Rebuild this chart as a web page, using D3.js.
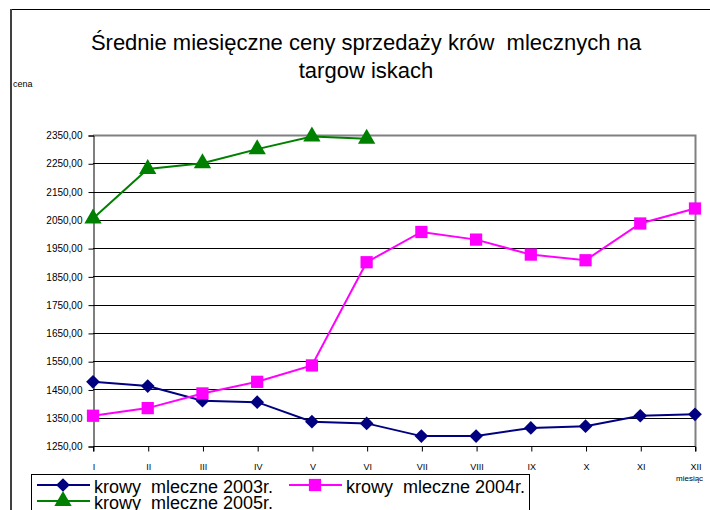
<html>
  <head>
    <meta charset="utf-8">
    <style>
      body {
        margin: 0;
        background: #fff;
      }
      text {
        font-family: "Liberation Sans", Arial, sans-serif;
        white-space: pre;
      }
    </style>
  </head>
  <body>
    <script src="https://d3js.org/d3.v7.min.js"></script>
    <script>
      var width = 710, height = 510;

      var months = ["I", "II", "III", "IV", "V", "VI", "VII", "VIII", "IX", "X", "XI", "XII"];
      var yTicks = [1250, 1350, 1450, 1550, 1650, 1750, 1850, 1950, 2050, 2150, 2250, 2350];
      var cows2003 = [1477, 1462, 1410, 1405, 1336, 1330, 1285, 1285, 1314, 1320, 1357, 1362];
      var cows2004 = [1357, 1384, 1436, 1477, 1535, 1900, 2007, 1980, 1927, 1907, 2037, 2090];
      var cows2005 = [2055, 2230, 2250, 2300, 2345, 2337];

      var titleLines = ["Średnie miesięczne ceny sprzedaży krów  mlecznych na", "targow iskach"];

      var series = [
        { name: "krowy  mleczne 2003r.", values: cows2003, color: "#000080", marker: "diamond" },
        { name: "krowy  mleczne 2004r.", values: cows2004, color: "#ff00ff", marker: "square" },
        { name: "krowy  mleczne 2005r.", values: cows2005, color: "#008000", marker: "triangle" }
      ];

      var plotLeft = 93, plotRight = 695, plotTop = 135, plotBottom = 446;

      var x = d3.scalePoint().domain(months).range([plotLeft, plotRight]);
      var y = d3.scaleLinear().domain([1250, 2350]).range([plotBottom, plotTop]);

      var svg = d3.select("body").append("svg")
          .attr("width", width)
          .attr("height", height);

      // chart area border
      svg.append("line")
          .attr("x1", 11).attr("x2", width)
          .attr("y1", 9.5).attr("y2", 9.5)
          .attr("stroke", "#000");
      svg.append("line")
          .attr("x1", 11).attr("x2", 11)
          .attr("y1", 9).attr("y2", height)
          .attr("stroke", "#404040")
          .attr("stroke-width", 2);

      svg.append("g").selectAll("text")
          .data(titleLines)
        .enter().append("text")
          .attr("x", 366)
          .attr("y", function(d, i){ return 50 + i * 28; })
          .attr("text-anchor", "middle")
          .attr("font-size", 22)
          .text(function(d){ return d; });

      svg.append("text")
          .attr("x", 13)
          .attr("y", 87)
          .attr("font-size", 9)
          .text("cena");

      // gridlines
      svg.append("g").selectAll("line")
          .data(yTicks.slice(1, -1))
        .enter().append("line")
          .attr("x1", plotLeft)
          .attr("x2", plotRight)
          .attr("y1", function(d){ return Math.round(y(d)) + 0.5; })
          .attr("y2", function(d){ return Math.round(y(d)) + 0.5; })
          .attr("stroke", "#000");

      // plot frame top + right
      svg.append("path")
          .attr("d", "M" + plotLeft + "," + (plotTop + 0.5) + "H" + (plotRight + 0.5) + "V" + plotBottom)
          .attr("fill", "none")
          .attr("stroke", "#808080")
          .attr("stroke-width", 2);

      var yAxis = svg.append("g")
          .attr("transform", "translate(" + (plotLeft + 0.5) + ",0.5)")
          .call(d3.axisLeft(y).tickValues(yTicks).tickSize(5).tickPadding(6)
              .tickFormat(function(d){ return d3.format(".2f")(d).replace(".", ","); }));
      yAxis.selectAll("text").attr("font-size", 10).attr("fill", "#000");
      yAxis.selectAll("line, path").attr("stroke", "#000");

      var xAxis = svg.append("g")
          .attr("transform", "translate(0.5," + (plotBottom + 0.5) + ")")
          .call(d3.axisBottom(x).tickSize(5).tickPadding(12));
      xAxis.selectAll("text").attr("font-size", 9).attr("fill", "#000");
      xAxis.selectAll("line, path").attr("stroke", "#000");
      xAxis.select(".domain").attr("d", "M" + plotLeft + ",5V0H" + plotRight + "V5");

      svg.append("text")
          .attr("x", 676)
          .attr("y", 481)
          .attr("font-size", 8)
          .text("miesiąc");

      var symbols = {
        diamond: d3.symbol().type(d3.symbolDiamond2).size(120),
        square: d3.symbol().type(d3.symbolSquare).size(150),
        triangle: d3.symbol().type(d3.symbolTriangle).size(130)
      };

      var line = d3.line()
          .x(function(d, i){ return x(months[i]); })
          .y(function(d){ return y(d); });

      series.forEach(function(s){
        var g = svg.append("g");
        g.append("path")
            .attr("d", line(s.values))
            .attr("fill", "none")
            .attr("stroke", s.color)
            .attr("stroke-width", 2);
        g.selectAll(".m")
            .data(s.values)
          .enter().append("path")
            .attr("class", "m")
            .attr("transform", function(d, i){ return "translate(" + x(months[i]) + "," + y(d) + ")"; })
            .attr("d", symbols[s.marker])
            .attr("fill", s.color);
      });

      // legend
      var legend = svg.append("g");
      legend.append("rect")
          .attr("x", 31.5)
          .attr("y", 474.5)
          .attr("width", 498)
          .attr("height", 50)
          .attr("fill", "#fff")
          .attr("stroke", "#000");

      var legendPos = [[37, 485], [289, 485], [37, 501]];
      series.forEach(function(s, i){
        var g = legend.append("g")
            .attr("transform", "translate(" + legendPos[i][0] + "," + legendPos[i][1] + ")");
        g.append("line")
            .attr("x1", 0).attr("x2", 53)
            .attr("stroke", s.color).attr("stroke-width", 2);
        g.append("path")
            .attr("transform", "translate(26,0)")
            .attr("d", symbols[s.marker])
            .attr("fill", s.color);
        g.append("text")
            .attr("x", 57)
            .attr("y", 8)
            .attr("font-size", 18)
            .text(s.name);
      });
    </script>
  </body>
</html>
